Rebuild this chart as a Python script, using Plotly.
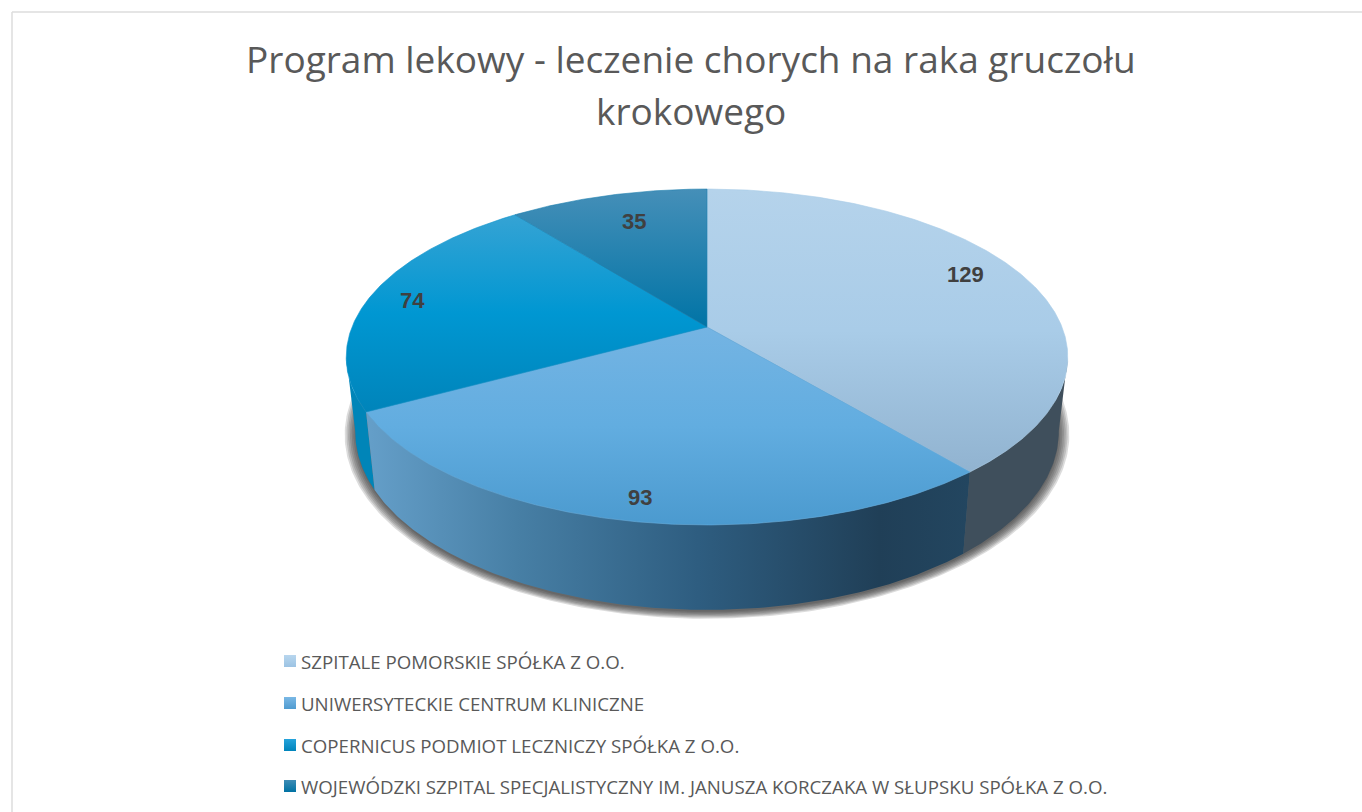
import numpy as np
import plotly.graph_objects as go

title_lines = ["Program lekowy - leczenie chorych na raka gruczołu", "krokowego"]
categories = [
    "SZPITALE POMORSKIE SPÓŁKA Z O.O.",
    "UNIWERSYTECKIE CENTRUM KLINICZNE",
    "COPERNICUS PODMIOT LECZNICZY SPÓŁKA Z O.O.",
    "WOJEWÓDZKI SZPITAL SPECJALISTYCZNY IM. JANUSZA KORCZAKA W SŁUPSKU SPÓŁKA Z O.O.",
]
values = [129, 93, 74, 35]

W, H = 1362, 812
TOP = dict(cx=707, cy=327, bx=355, by=162.6, k=0.1786, sx=1.0, sy=1.0)
BOTTOM = dict(TOP, cy=400, sx=0.975, sy=1.06)

top_grad = [
    [[0, "#b5d3eb"], [0.5, "#a9cce8"], [1, "#91b3d0"]],
    [[0, "#74b4e3"], [0.5, "#62ade0"], [1, "#4b9acf"]],
    [[0, "#35a3d4"], [0.5, "#0097d2"], [1, "#0084ba"]],
    [[0, "#458fb8"], [1, "#0074a6"]],
]
top_seam = ["#a9cce8", "#62ade0", "#0f93cb", "#1f80ae"]
top_span = [(189, 472), (327, 525), (215, 412), (189, 327)]
side_color = ["#3f4f5c", None, "#0085b8"]
side2_grad = [[0, "#659fc9"], [0.25, "#477fa5"], [0.55, "#2e5d80"], [0.85, "#203f57"], [1, "#234660"]]
legend_colors = [("#b8d6ee", "#9cc3e3"), ("#7ab8e5", "#4f9bd0"), ("#25a3db", "#0084bb"), ("#3e8cb5", "#0072a3")]
legend_y = [661, 703, 745, 786]
label_r = [0.82, 0.90, 0.86, 0.78]
label_shift = [(-2.5, 9), (5, 0), (-5, -1), (7, 0)]


def project(theta, p, r=1.0):
    u, v = r * np.sin(theta), r * np.cos(theta)
    w = 1 + p["k"] * v
    return p["cx"] + p["sx"] * p["bx"] * u / w, p["cy"] - p["sy"] * p["by"] * v / w


def arc(a, b, p, r=1.0):
    n = max(int(abs(b - a) * 120), 2)
    return project(np.linspace(a, b, n), p, r)


total = sum(values)
edges = np.concatenate([[0], np.cumsum(values)]) / total * 2 * np.pi

fig = go.Figure()

# soft shadow beneath the pie
t = np.linspace(0, 2 * np.pi, 500)
for i in range(7):
    sh = dict(BOTTOM, cy=BOTTOM["cy"] + 2, sx=BOTTOM["sx"] * (1 + i * 0.005), sy=BOTTOM["sy"] * (1 + i * 0.0055))
    x, y = project(t, sh)
    fig.add_trace(go.Scatter(x=x, y=y, mode="lines", line=dict(width=0), fill="toself",
                             fillcolor="rgba(50,50,50,0.17)", hoverinfo="skip", showlegend=False))

# outer walls, only the parts of them facing the viewer
walls = [(np.radians(100), edges[1], 0), (edges[2], np.radians(260), 2), (edges[1], edges[2], 1)]
for a, b, idx in walls:
    x1, y1 = arc(a, b, TOP)
    x2, y2 = arc(b, a, BOTTOM)
    x = np.concatenate([x1, x2])
    y = np.concatenate([y1, y2])
    kw = {}
    if side_color[idx]:
        kw["fillcolor"] = side_color[idx]
    else:
        kw["fillgradient"] = dict(type="horizontal", start=float(x.min()), stop=float(x.max()), colorscale=side2_grad)
    fig.add_trace(go.Scatter(x=x, y=y, mode="lines", line=dict(width=0), fill="toself",
                             hoverinfo="skip", showlegend=False, **kw))

# top faces
for i, name in enumerate(categories):
    x, y = arc(edges[i], edges[i + 1], TOP)
    x = np.concatenate([[TOP["cx"]], x, [TOP["cx"]]])
    y = np.concatenate([[TOP["cy"]], y, [TOP["cy"]]])
    fig.add_trace(go.Scatter(
        x=x, y=y, mode="lines", line=dict(width=0.6, color=top_seam[i]), fill="toself", name=name,
        fillgradient=dict(type="vertical", start=top_span[i][0], stop=top_span[i][1], colorscale=top_grad[i]),
        hoverinfo="skip", showlegend=False))

# legend
for i, name in enumerate(categories):
    fig.add_trace(go.Scatter(
        x=[290], y=[legend_y[i]], mode="markers",
        marker=dict(symbol="square", size=12, color=legend_colors[i][0],
                    gradient=dict(type="vertical", color=legend_colors[i][1]), line=dict(width=0)),
        hoverinfo="skip", showlegend=False))
    fig.add_annotation(x=299, y=legend_y[i], text=name, showarrow=False, xanchor="left", yanchor="middle",
                       font=dict(family="Open Sans", size=18.7, color="#595959"))

# data labels
for i, val in enumerate(values):
    mid = (edges[i] + edges[i + 1]) / 2
    lx, ly = project(mid, TOP, label_r[i])
    fig.add_annotation(x=float(lx), y=float(ly), text=f"<b>{val}</b>", showarrow=False,
                       xshift=label_shift[i][0], yshift=label_shift[i][1],
                       font=dict(family="Liberation Sans", size=22, color="#404040"))

# title
for line, yy in zip(title_lines, [58, 110]):
    fig.add_annotation(x=691, y=yy, text=line, showarrow=False, xanchor="center", yanchor="middle",
                       font=dict(family="Open Sans", size=37, color="#595959"))

fig.update_layout(
    width=W, height=H, margin=dict(l=0, r=0, t=0, b=0),
    paper_bgcolor="white", plot_bgcolor="white", showlegend=False,
    xaxis=dict(range=[0, W], visible=False, fixedrange=True),
    yaxis=dict(range=[H, 0], visible=False, fixedrange=True),
    shapes=[
        dict(type="line", xref="x", yref="y", x0=12, x1=12, y0=12, y1=H, line=dict(color="#dcdcdc", width=1.5)),
        dict(type="line", xref="x", yref="y", x0=12, x1=W, y0=12, y1=12, line=dict(color="#dcdcdc", width=1.5)),
    ],
)
fig.write_html("out.html", config=dict(displayModeBar=False),
               post_script="document.body.style.margin='0';document.body.style.overflow='hidden';")
